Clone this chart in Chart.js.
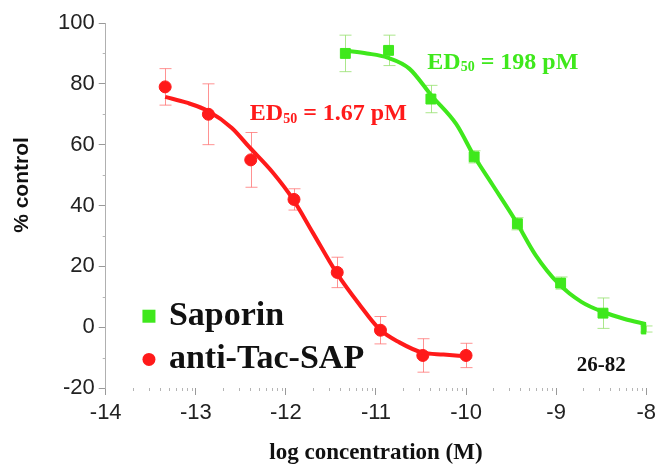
<!DOCTYPE html>
<html>
<head>
<meta charset="utf-8">
<title>Saporin vs anti-Tac-SAP</title>
<script src="https://cdn.jsdelivr.net/npm/chart.js@4.4.0/dist/chart.umd.min.js"></script>
<style>
  html, body { margin: 0; padding: 0; background: #fff; }
  #c { display: block; }
</style>
</head>
<body>
<canvas id="c" width="661" height="464"></canvas>
<script>
// --- datos (log M vs % control) ---
const xTicks = [-14, -13, -12, -11, -10, -9, -8];
const yTicks = [-20, 0, 20, 40, 60, 80, 100];

// anti-Tac-SAP (puntos medidos)
const redX = [-13.34, -12.86, -12.39, -11.91, -11.43, -10.95, -10.48, -10.0];
const redY = [79, 70, 55, 42, 18, -1, -9.3, -9.3];
const redErr = [6, 10, 9, 3.5, 5, 4.5, 5.5, 4];

// Saporin (puntos medidos)
const greenX = [-11.34, -10.86, -10.39, -9.91, -9.43, -8.95, -8.48, -8.0];
const greenY = [90, 91, 75, 56, 34, 14.5, 4.6, -0.6];
const greenErr = [6, 5, 4.5, 2, 2, 2, 5, 1];

// curvas ajustadas, leídas punto a punto
const redCurveX = [-13.34, -13.1, -12.86, -12.6, -12.4, -12.15, -11.92, -11.7, -11.43, -11.18, -10.96, -10.74, -10.49, -10.25, -10.0];
const redCurveY = [75.7, 73.8, 71, 65.5, 59, 51, 42, 31, 17.5, 7.3, -0.7, -5, -8.3, -9.0, -9.6];
const greenCurveX = [-11.34, -11.1, -10.87, -10.63, -10.38, -10.11, -9.91, -9.71, -9.45, -9.23, -8.97, -8.72, -8.48, -8.24, -8.0];
const greenCurveY = [90.9, 90, 88.6, 85, 76, 66.8, 56.2, 47, 35, 23.8, 14.2, 8.3, 5, 2.7, 1];

const RED = '#ff1a1a';
const GREEN = '#3fe81c';

const pts = (xs, ys) => xs.map((x, i) => ({ x: x, y: ys[i] }));

// barras de error + marcas menores + textos
const extras = {
    id: 'extras',
    beforeDatasetsDraw(chart) {
        const { ctx, scales: { x, y } } = chart;
        ctx.save();

        // marcas menores eje x (log)
        ctx.strokeStyle = '#b5b5b5';
        ctx.lineWidth = 1;
        const yb = y.getPixelForValue(-20);
        for (let d = -14; d < -8; d++) {
            for (let k = 2; k <= 9; k++) {
                const px = Math.round(x.getPixelForValue(d + Math.log10(k))) + 0.5;
                ctx.beginPath(); ctx.moveTo(px, yb); ctx.lineTo(px, yb + 3); ctx.stroke();
            }
        }
        // marcas menores eje y
        const xl = x.getPixelForValue(-14);
        for (let v = -10; v < 100; v += 20) {
            const py = Math.round(y.getPixelForValue(v)) + 0.5;
            ctx.beginPath(); ctx.moveTo(xl - 3, py); ctx.lineTo(xl, py); ctx.stroke();
        }

        // barras de error
        const bars = (xs, ys, es, color) => {
            ctx.strokeStyle = color;
            ctx.lineWidth = 1;
            xs.forEach((xv, i) => {
                const px = Math.round(x.getPixelForValue(xv)) + 0.5;
                const top = y.getPixelForValue(ys[i] + es[i]);
                const bot = y.getPixelForValue(ys[i] - es[i]);
                ctx.beginPath();
                ctx.moveTo(px, top); ctx.lineTo(px, bot);
                ctx.moveTo(px - 6, top); ctx.lineTo(px + 6, top);
                ctx.moveTo(px - 6, bot); ctx.lineTo(px + 6, bot);
                ctx.stroke();
            });
        };
        bars(redX, redY, redErr, 'rgba(255,110,110,0.75)');
        bars(greenX, greenY, greenErr, 'rgba(150,225,110,0.8)');
        ctx.restore();
    },
    afterDraw(chart) {
        const { ctx, scales: { x, y } } = chart;
        ctx.save();
        ctx.textBaseline = 'middle';
        ctx.textAlign = 'left';

        // ED50 con subíndice
        const ed = (xv, yv, rest, color) => {
            let px = x.getPixelForValue(xv);
            const py = y.getPixelForValue(yv);
            ctx.fillStyle = color;
            ctx.font = 'bold 24px "Liberation Serif"';
            ctx.fillText('ED', px, py);
            px += ctx.measureText('ED').width;
            ctx.font = 'bold 14px "Liberation Serif"';
            ctx.fillText('50', px, py + 5);
            px += ctx.measureText('50').width;
            ctx.font = 'bold 24px "Liberation Serif"';
            ctx.fillText(rest, px, py);
        };
        ed(-12.40, 70, ' = 1.67 pM', RED);
        ed(-10.43, 87, ' = 198 pM', GREEN);

        ctx.fillStyle = '#111';
        ctx.font = 'bold 21px "Liberation Serif"';
        ctx.fillText('26-82', x.getPixelForValue(-8.77), y.getPixelForValue(-12.6));

        // leyenda
        const lx = x.getPixelForValue(-13.52);
        const ly1 = y.getPixelForValue(3.6);
        const ly2 = y.getPixelForValue(-10.6);
        ctx.fillStyle = GREEN;
        ctx.fillRect(lx - 6.5, ly1 - 6.5, 13, 13);
        ctx.fillStyle = RED;
        ctx.beginPath(); ctx.arc(lx, ly2, 6.5, 0, Math.PI * 2); ctx.fill();
        ctx.fillStyle = '#111';
        ctx.font = 'bold 34px "Liberation Serif"';
        ctx.fillText('Saporin', lx + 20, ly1);
        ctx.fillText('anti-Tac-SAP', lx + 20, ly2);

        // título eje y
        ctx.translate(22, 185);
        ctx.rotate(-Math.PI / 2);
        ctx.textAlign = 'center';
        ctx.font = 'bold 21px "Liberation Sans"';
        ctx.fillText('% control', 0, 0);
        ctx.restore();
    }
};

const tickFont = { family: '"Liberation Sans", Arial, sans-serif', size: 22 };

new Chart(document.getElementById('c'), {
    type: 'scatter',
    data: {
        datasets: [
            { label: 'anti-Tac-SAP fit', data: pts(redCurveX, redCurveY), showLine: true, borderColor: RED, borderWidth: 4, pointRadius: 0, cubicInterpolationMode: 'monotone' },
            { label: 'Saporin fit', data: pts(greenCurveX, greenCurveY), showLine: true, borderColor: GREEN, borderWidth: 4, pointRadius: 0, cubicInterpolationMode: 'monotone' },
            { label: 'anti-Tac-SAP', data: pts(redX, redY), pointStyle: 'circle', pointRadius: 6, backgroundColor: RED, borderColor: RED },
            { label: 'Saporin', data: pts(greenX, greenY), pointStyle: 'rect', pointRadius: 7, backgroundColor: GREEN, borderColor: GREEN }
        ]
    },
    options: {
        responsive: false,
        animation: false,
        layout: { padding: { left: 54, right: 0, top: 23, bottom: 0 } },
        plugins: { legend: { display: false }, tooltip: { enabled: false } },
        scales: {
            x: {
                type: 'linear', min: -14, max: -8,
                afterBuildTicks: (s) => { s.ticks = xTicks.map(v => ({ value: v })); },
                ticks: { font: tickFont, color: '#222', padding: 5 },
                grid: { drawOnChartArea: false, tickLength: 7, color: '#999' },
                border: { display: false },
                title: { display: true, text: 'log concentration (M)', color: '#111', padding: { top: 8, bottom: -3 },
                         font: { family: '"Liberation Serif", serif', size: 23, weight: 'bold' } }
            },
            y: {
                min: -20, max: 100,
                afterBuildTicks: (s) => { s.ticks = yTicks.map(v => ({ value: v })); },
                ticks: { font: tickFont, color: '#222', padding: 4 },
                grid: { drawOnChartArea: false, tickLength: 7, color: '#999' },
                border: { display: true, color: '#b0b0b0', width: 1 }
            }
        }
    },
    plugins: [extras]
});
</script>
</body>
</html>
